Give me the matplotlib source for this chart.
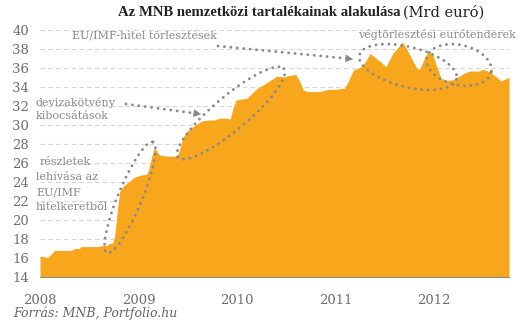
import numpy as np
import matplotlib
matplotlib.use("Agg")
import matplotlib.pyplot as plt
from matplotlib.lines import Line2D

# reserves, bn EUR (decimal year, value)
years = [2008.00, 2008.03, 2008.08, 2008.12, 2008.15, 2008.32, 2008.35, 2008.40,
         2008.42, 2008.59, 2008.62, 2008.68, 2008.70, 2008.74, 2008.76, 2008.79,
         2008.81, 2008.85, 2008.90, 2008.96, 2009.02, 2009.08, 2009.10, 2009.13,
         2009.16, 2009.20, 2009.22, 2009.30, 2009.37, 2009.40, 2009.43, 2009.45,
         2009.50, 2009.55, 2009.64, 2009.70, 2009.77, 2009.82, 2009.89, 2009.93,
         2009.96, 2009.99, 2010.10, 2010.15, 2010.20, 2010.28, 2010.37, 2010.40,
         2010.48, 2010.535, 2010.596, 2010.64, 2010.67, 2010.70, 2010.74, 2010.84,
         2010.91, 2011.01, 2011.09, 2011.13, 2011.18, 2011.26, 2011.30, 2011.35,
         2011.41, 2011.46, 2011.51, 2011.58, 2011.68, 2011.75, 2011.82, 2011.85,
         2011.91, 2011.94, 2011.99, 2012.02, 2012.07, 2012.12, 2012.18, 2012.23,
         2012.30, 2012.36, 2012.46, 2012.49, 2012.56, 2012.63, 2012.68, 2012.74,
         2012.76]
reserves = [16.2, 16.15, 16.05, 16.5, 16.8, 16.8, 17.0, 17.0,
            17.2, 17.2, 17.3, 17.3, 17.5, 17.6, 18.5, 21.5,
            23.0, 23.6, 24.0, 24.5, 24.7, 24.8, 25.2, 26.5,
            27.6, 27.0, 26.8, 26.7, 26.7, 26.9, 27.8, 28.7,
            29.4, 29.8, 30.4, 30.5, 30.5, 30.7, 30.7, 30.6,
            31.8, 32.6, 32.8, 33.3, 33.8, 34.3, 34.9, 35.1,
            35.05, 35.2, 35.3, 34.5, 33.7, 33.55, 33.5, 33.5,
            33.7, 33.75, 33.85, 34.6, 35.75, 36.1, 36.6, 37.5,
            37.0, 36.6, 36.1, 37.5, 38.7, 37.4, 36.0, 35.8,
            37.2, 37.7, 37.3, 36.3, 34.9, 34.7, 34.7, 34.95,
            35.4, 35.65, 35.65, 35.85, 35.6, 35.05, 34.6, 34.9,
            35.0]

x_ticks = [2008, 2009, 2010, 2011, 2012]
y_ticks = list(range(14, 41, 2))

W, H = 522, 325
orange = "#f8a61b"
dotc = "#8a8a8a"
txtc = "#8a8a8a"
FONT = "DejaVu Serif"
TFONT = "Liberation Serif"

fig = plt.figure(figsize=(W / 100, H / 100), dpi=100)
ax = fig.add_axes([40 / W, 1 - 277 / H, (509 - 40) / W, (277 - 29.7) / H])

ax.fill_between(years, 14, reserves, color=orange, lw=0, zorder=3)
ax.set_xlim(2008, 2012.76)
ax.set_ylim(14, 40)
ax.set_yticks(y_ticks)
ax.set_xticks(x_ticks)
ax.yaxis.grid(True, color="#d4d4d4", ls=(0, (4, 3)), lw=0.8, zorder=0)
ax.set_axisbelow(True)
for s in ["top", "right", "left"]:
    ax.spines[s].set_visible(False)
ax.spines["bottom"].set_color("#8c8c8c")
ax.spines["bottom"].set_zorder(5)
ax.tick_params(length=0, labelsize=9.5, labelcolor="#6e6e6e", pad=8)
ax.tick_params(axis="x", pad=12)
for lab in ax.get_xticklabels() + ax.get_yticklabels():
    lab.set_family(FONT)


def px(x, y):
    return x / W, 1 - y / H


def dots(xs, ys):
    fx = [x / W for x in xs]
    fy = [1 - y / H for y in ys]
    fig.add_artist(Line2D(fx, fy, color=dotc, lw=2.1, ls=(0, (0.01, 2.2)),
                          dash_capstyle="round", zorder=10))


def loop(cx, cy, a, b, ang):
    t = np.linspace(0, 2 * np.pi, 200)
    r = np.deg2rad(ang)
    ex = a * np.cos(t)
    ey = b * np.sin(t)
    dots(cx + ex * np.cos(r) - ey * np.sin(r), cy + ex * np.sin(r) + ey * np.cos(r))


def arrow(x0, y0, x1, y1):
    dots([x0, x1], [y0, y1])
    d = np.hypot(x1 - x0, y1 - y0)
    ux, uy = (x1 - x0) / d, (y1 - y0) / d
    fig.add_artist(plt.Annotation("", xy=px(x1 + ux * 4, y1 + uy * 4),
                                  xytext=px(x1 - ux * 6, y1 - uy * 6),
                                  xycoords="figure fraction",
                                  arrowprops=dict(arrowstyle="-|>", color=dotc,
                                                  lw=0, mutation_scale=14)))


loop(130, 197.5, 60, 12, -67.5)
loop(231, 113, 69, 17, -40)
loop(408, 67, 50, 20, 14)
loop(459, 65, 33, 20, 13)
arrow(218, 46, 352, 59)
arrow(126, 104, 200, 114)

fig.text(*px(400, 12), "Az MNB nemzetközi tartalékainak alakulása", ha="right",
         va="center", family=TFONT, fontsize=10.6, fontweight="bold", color="#222222")
fig.text(*px(403, 12.5), "(Mrd euró)", ha="left", va="center", family=FONT,
         fontsize=10.5, color="#222222")

kw = dict(family=FONT, fontsize=8, color=txtc, va="center", ha="left")
fig.text(*px(72, 35), "EU/IMF-hitel törlesztések", **kw)
fig.text(*px(358, 34), "végtörlesztési eurótenderek", **kw)
fig.text(*px(36, 102), "devizakötvény", **kw)
fig.text(*px(36, 116), "kibocsátások", **kw)
fig.text(*px(40, 162), "részletek", **kw)
fig.text(*px(36, 177), "lehívása az", **kw)
fig.text(*px(36, 192), "EU/IMF", **kw)
fig.text(*px(36, 207), "hitelkeretből", **kw)

fig.text(*px(13, 313), "Forrás: MNB, Portfolio.hu", family=FONT, style="italic",
         fontsize=9, color="#666666", va="center", ha="left")

fig.savefig("out.png", dpi=100)
